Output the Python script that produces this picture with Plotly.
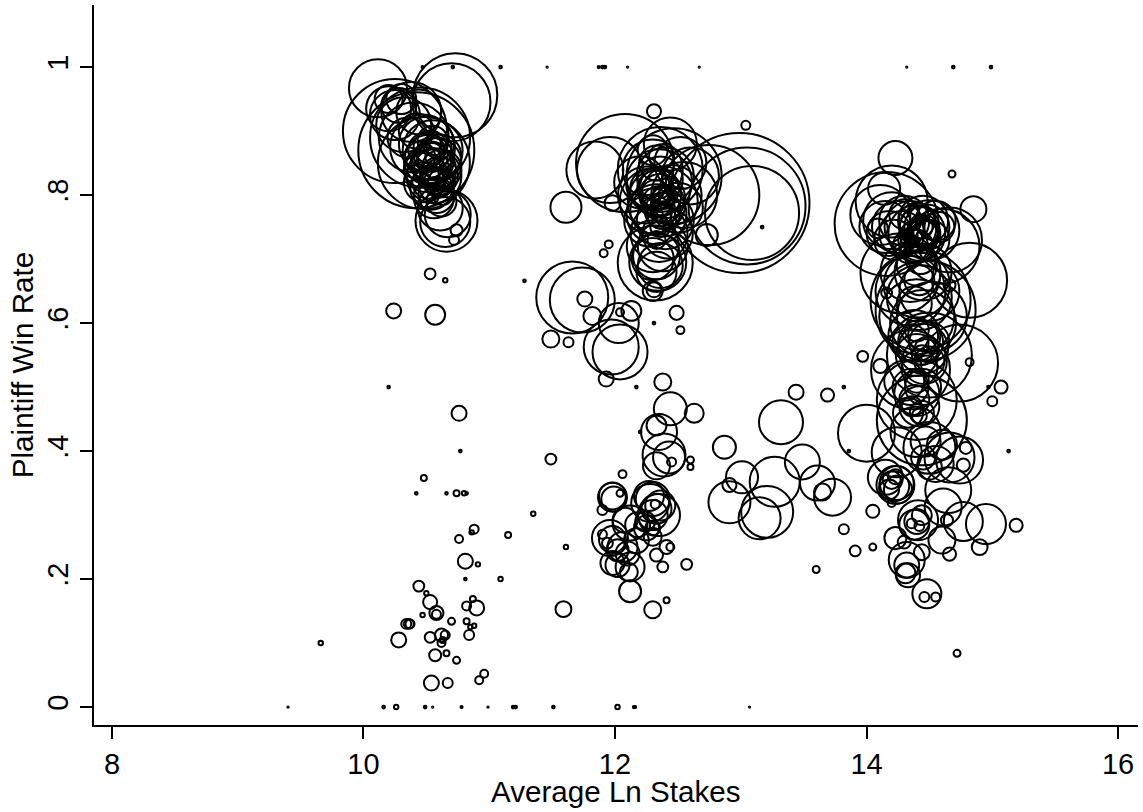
import plotly.graph_objects as go

# Average Ln Stakes / Plaintiff Win Rate / case weight
nw_x = [10.73,10.70,10.115,10.25,10.42,10.45,10.48,10.66,10.65,10.67,10.74,10.72,10.53,10.65,10.24,10.57,
        10.2,10.25,10.32,10.38,10.44,10.3,10.4,10.47,10.5,10.55,10.52,10.58,10.5,10.56,10.6,10.62,10.48,10.54,
        10.58,10.52,10.55,10.6,10.56,10.62,10.5,10.58,10.53,10.6,10.45,10.42,10.35,10.28,10.2,10.55,10.57,10.63,10.61,
        10.5,10.54,10.57,10.6,10.52,10.58,10.55,10.62,10.47,10.53]
nw_y = [.956,.945,.967,.90,.87,.89,.85,.76,.758,.77,.745,.73,.677,.667,.619,.613,
        .935,.925,.91,.93,.93,.95,.89,.875,.88,.87,.855,.85,.84,.83,.86,.84,.82,.81,
        .815,.86,.885,.82,.795,.79,.80,.84,.83,.875,.86,.90,.89,.94,.95,.86,.88,.80,.78,
        .87,.85,.84,.83,.82,.80,.86,.82,.84,.875]
nw_w = [784,676,374,1202,1495,1111,940,427,278,235,16,11,13,2.2,25,44,
        225,278,336,400,225,100,544,469,336,400,278,278,225,336,225,178,178,196,
        136,100,100,100,178,100,69,44,36,69,100,136,178,136,87,25,16,44,225,
        144,178,196,160,121,144,100,81,144,121]

nc_x = [12.99,13.05,13.09,13.17,12.75,12.73,12.31,13.04,11.84,11.96,12.08,11.61,11.98,12.36,12.44,12.47,12.32,12.34,
        12.31,12.3,11.95,11.91,11.66,11.74,11.76,11.82,12.03,12.13,12.04,12.49,12.52,12.31,11.28,11.49,11.63,11.97,
        12.04,11.93,12.17,12.38,
        12.3,12.35,12.4,12.25,12.3,12.38,12.45,12.33,12.4,12.28,12.35,12.42,12.3,12.38,12.33,12.36,12.33,12.3,12.35,
        12.33,12.3,12.37,12.4,12.32,12.35,12.36,12.33,12.38,12.5,12.55,12.6,12.52,12.2,
        12.32,12.36,12.3,12.34,12.38,12.28,12.36,12.42]
nc_y = [.7875,.783,.772,.75,.80,.7375,.931,.909,.839,.839,.85,.781,.7875,.84,.88,.83,.694,.695,
        .652,.65,.723,.709,.64,.636,.6375,.611,.60,.619,.617,.616,.589,.6,.666,.575,.57,.5625,
        .555,.5125,.5,.508,
        .84,.82,.83,.80,.79,.79,.80,.77,.76,.76,.74,.74,.72,.72,.705,.69,.68,.70,.81,
        .85,.87,.86,.78,.80,.77,.75,.73,.80,.78,.80,.83,.85,.82,
        .81,.80,.775,.79,.775,.81,.825,.79]
nc_w = [2178,1521,982,.8,1111,54,22,9,361,484,1067,107,28,803,312,1003,625,361,
        25,44,7,7,576,469,25,36,178,44,7,22,7,.8,.8,32,11,336,
        336,25,.8,32,
        400,484,361,361,484,544,400,400,361,300,361,278,300,278,245,225,178,196,178,
        136,100,69,100,100,69,44,36,44,278,484,361,300,300,
        144,196,225,100,144,178,225,121]

ne_x = [14.23,14.68,14.85,14.16,14.2,14.11,14.09,14.14,14.27,14.82,14.6,14.66,14.5,14.43,14.47,14.42,14.66,14.16,
        14.35,14.74,14.5,13.97,14.11,14.82,15.07,15.0,14.97,14.4,14.44,
        14.15,14.2,14.25,14.18,14.22,14.3,14.28,14.35,14.4,14.45,14.42,14.48,14.5,14.4,14.45,14.43,14.35,14.55,14.58,14.3,
        14.35,14.4,14.45,14.35,14.42,14.5,14.4,14.45,14.52,14.4,14.43,14.38,
        14.38,14.43,14.45,14.5,14.4,14.46,14.42,14.5,14.45,14.4,14.44,14.48,14.35,
        14.3,14.35,14.4,14.42,14.38,14.45,14.33,14.4,14.44,14.36,14.42,
        14.42,14.46,14.44,14.48,14.4]
ne_y = [.858,.833,.778,.755,.79,.769,.748,.81,.678,.667,.72,.73,.745,.636,.62,.667,.659,.647,
        .527,.5375,.55,.548,.533,.539,.5,.478,.5,.48,.448,
        .75,.76,.75,.74,.73,.76,.74,.75,.74,.76,.73,.75,.73,.76,.74,.75,.72,.76,.75,.77,
        .68,.66,.68,.65,.64,.65,.61,.60,.61,.69,.70,.63,
        .58,.57,.56,.57,.55,.54,.53,.54,.58,.59,.55,.56,.57,
        .51,.50,.49,.47,.48,.50,.46,.51,.46,.47,.455,
        .75,.745,.735,.74,.72]
ne_w = [128,5.4,75,1202,576,400,44,114,711,625,625,469,400,1111,1111,100,16,13,
        693,659,803,13,22,7,19,11,.8,711,900,
        300,361,300,225,178,278,225,300,361,278,196,225,178,144,100,64,136,178,100,100,
        400,484,361,544,469,400,625,484,544,178,100,136,
        300,225,278,178,196,225,144,100,100,64,44,64,144,
        178,144,225,178,100,144,100,64,64,44,25,
        178,100,121,81,121]

se_x = [14.24,14.39,14.5,14.74,14.66,14.79,14.77,14.15,14.23,14.24,14.22,14.25,14.23,14.2,14.05,14.05,14.65,14.61,
        14.77,14.95,14.64,15.19,14.9,14.66,15.13,14.72,14.41,14.38,14.4,14.36,14.42,14.44,14.6,14.23,14.3,14.44,14.32,
        14.32,14.31,14.33,14.48,14.46,14.55,14.47,14.55,14.5,14.45,14.6,14.18,14.2]
se_y = [.398,.43,.405,.386,.39,.405,.378,.359,.347,.35,.345,.34,.36,.319,.306,.25,.339,.3125,
        .29,.286,.292,.284,.25,.239,.4,.084,.292,.285,.29,.287,.283,.3,.261,.264,.258,.242,.23,
        .222,.209,.206,.177,.172,.172,.415,.38,.375,.39,.41,.34,.355]
se_w = [278,278,300,245,278,16,19,136,160,128,100,87,25,7,19,5.4,235,152,
        169,178,16,19,28,19,.8,5.4,178,100,69,11,11,44,81,54,19,28,144,
        69,44,64,93,11,9,100,144,69,64,100,44,36]

mid_x = [13.44,13.69,13.82,12.44,12.63,13.32,14.0,13.86,12.35,12.33,12.2,12.39,12.43,12.33,12.45,12.6,12.6,12.87,
         11.49,12.06,13.01,13.27,13.49,13.61,13.73,13.65,12.91,12.91,13.21,13.15,11.98,11.98,11.99,12.04,11.9,12.28,
         12.3,12.33,12.35,12.3,12.32,12.27,12.36,12.12,12.08,12.18,11.96,11.9,11.94,12.02,11.98,12.02,12.12,12.11,
         12.12,11.59,12.3,12.41,12.57,12.38,12.33,12.44,12.41,11.61,13.6,13.82,13.91,12.3,12.17,12.06,11.98,12.1,
         12.25,12.24,12.3]
mid_y = [.492,.4875,.5,.466,.459,.445,.428,.4,.43,.44,.43,.394,.39,.377,.383,.386,.375,.406,
         .3875,.364,.359,.352,.383,.35,.328,.336,.347,.32,.305,.295,.328,.33,.325,.334,.308,.319,
         .325,.31,.30,.30,.317,.33,.315,.2875,.292,.285,.264,.27,.256,.245,.225,.222,.219,.211,
         .181,.153,.152,.167,.223,.219,.2375,.25,.25,.25,.215,.278,.244,.266,.26,.25,.262,.24,
         .28,.29,.28]
mid_w = [25,19,.8,121,40,215,361,.8,144,44,.8,205,114,81,9,5.4,4,59,
         13,7,114,278,136,136,152,32,22,196,300,196,93,81,69,5.4,11,160,
         128,100,196,100,9,100,100,136,69,69,144,9,13,54,64,64,93,36,
         54,28,32,4,13,13,19,7,22,2.2,5.4,11,13,36,69,100,81,64,
         69,44,25]

sw_x = [10.2,10.76,10.77,10.48,10.42,10.66,10.74,10.8,10.82,11.35,10.88,10.86,11.15,10.76,10.81,10.91,10.81,11.09,
        10.44,10.5,10.53,10.58,10.58,10.47,10.7,10.87,10.82,10.9,10.82,10.88,10.85,10.84,10.34,10.37,10.36,10.28,9.66,
        10.53,10.62,10.65,10.62,10.63,10.57,10.66,10.74,10.96,10.92,10.54,10.67]
sw_y = [.5,.459,.4,.358,.334,.334,.334,.334,.334,.302,.278,.273,.269,.2625,.228,.223,.2,.2,
        .189,.178,.164,.147,.145,.144,.134,.169,.158,.155,.134,.127,.125,.1125,.13,.13,.13,.105,.1,
        .109,.1125,.1125,.1,.105,.081,.084,.073,.052,.042,.0375,.0375]
sw_w = [.8,25,.8,4,.8,.8,4,2.2,.8,2.2,9,2.2,4,7,25,2.2,.8,2.2,
        13,2.2,22,22,9,2.2,5.4,4,9,25,4,2.2,2.2,11,11,9,11,25,2.2,
        13,19,9,7,4,16,4,5.4,7,7,25,11]

won_x = [10.47,10.71,11.09,11.46,11.87,11.9,11.92,12.1,12.67,14.32,14.69,14.99]
won_y = [1,1,1,1,1,1,1,1,1,1,1,1]
won_w = [.5,.8,.8,.2,.5,.8,.8,.2,.2,.2,.8,.8]

lost_x = [9.4,10.16,10.26,10.49,10.55,10.78,10.99,11.19,11.21,11.51,12.02,12.15,12.16,13.07]
lost_y = [0,0,0,0,0,0,0,0,0,0,0,0,0,0]
lost_w = [.2,.8,2.2,.8,.2,.5,.2,.8,.8,.8,2.2,.5,.5,.2]

xticks = [8, 10, 12, 14, 16]
yticks = [0, .2, .4, .6, .8, 1]
yticklabels = ["0", ".2", ".4", ".6", ".8", "1"]

xs = nw_x + nc_x + ne_x + se_x + mid_x + sw_x + won_x + lost_x
ys = nw_y + nc_y + ne_y + se_y + mid_y + sw_y + won_y + lost_y
ws = nw_w + nc_w + ne_w + se_w + mid_w + sw_w + won_w + lost_w
assert len(xs) == len(ys) == len(ws)

fig = go.Figure(go.Scatter(
    x=xs, y=ys, mode="markers", hoverinfo="skip", cliponaxis=False,
    marker=dict(symbol="circle-open", size=ws, sizemode="area", sizeref=2/9, opacity=1,
                color="black", line=dict(color="black", width=2)),
))

font = dict(family="Liberation Sans, Arial, sans-serif", size=29, color="black")
title_font = dict(family="Liberation Sans, Arial, sans-serif", size=29.6, color="black")
axis = dict(showgrid=False, zeroline=False, showline=True, linecolor="black", linewidth=2,
            ticks="outside", ticklen=12, tickwidth=1.5, tickcolor="black", tickfont=font)
fig.update_layout(
    width=1143, height=812, autosize=False, showlegend=False,
    paper_bgcolor="white", plot_bgcolor="white",
    margin=dict(l=94, r=5, t=5, b=87),
    xaxis=dict(axis, range=[7.857, 16.159], tickvals=xticks, ticktext=[str(t) for t in xticks]),
    yaxis=dict(axis, range=[-0.028, 1.097], tickvals=yticks, ticktext=yticklabels, tickangle=-90,
               title=dict(text="Plaintiff Win Rate", font=title_font, standoff=0)),
    annotations=[dict(text="Average Ln Stakes", font=title_font, showarrow=False,
                      xref="paper", yref="paper", x=0.5, y=-0.0917,
                      xanchor="center", yanchor="middle")],
)
fig.write_html("out.html", config={"displayModeBar": False},
               post_script="document.body.style.margin='0';document.body.style.overflow='hidden';")
